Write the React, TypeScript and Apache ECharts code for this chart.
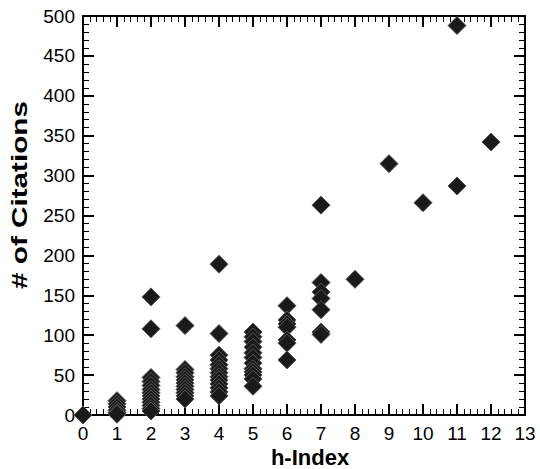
import React, { useEffect, useRef } from "react";
import * as echarts from "echarts";

const hIndexValues = [0, 1, 2, 3, 4, 5, 6, 7, 8, 9, 10, 11, 12];
const citationsByH: number[][] = [
  [0],
  [18, 14, 10, 6, 3, 1],
  [148, 108, 47, 42, 37, 32, 28, 24, 20, 16, 12, 8, 5],
  [112, 57, 53, 48, 44, 40, 36, 32, 28, 24, 20],
  [189, 102, 75, 69, 63, 58, 53, 48, 44, 39, 34, 29, 24],
  [104, 98, 92, 85, 78, 72, 65, 58, 54, 50, 45, 36],
  [137, 119, 114, 110, 94, 90, 69],
  [263, 166, 154, 146, 132, 104, 101],
  [170],
  [315],
  [266],
  [488, 287],
  [342],
];
const xTitle = "h-Index";
const yTitle = "# of Citations";

export default function App() {
  const ref = useRef<HTMLDivElement>(null);
  useEffect(() => {
    if (!ref.current) return;
    const chart = echarts.init(ref.current, null, { renderer: "svg" });
    const data: [number, number][] = [];
    hIndexValues.forEach((h, i) => {
      citationsByH[i].forEach((c) => data.push([h, c]));
    });
    const labelFont = {
      fontSize: 19,
      color: "#000",
      fontFamily: "Liberation Sans, Arial, sans-serif",
    };
    const common = {
      axisLine: { show: true, onZero: false, lineStyle: { color: "#000", width: 2 } },
      axisTick: { show: true, inside: true, length: 11, lineStyle: { color: "#000", width: 2 } },
      minorTick: { show: true, splitNumber: 5, length: 6, lineStyle: { color: "#000", width: 1 } },
      splitLine: { show: false },
      minorSplitLine: { show: false },
    };
    chart.setOption({
      animation: false,
      grid: { left: 83, right: 15, top: 16, bottom: 54 },
      xAxis: [
        {
          type: "value",
          min: 0,
          max: 13,
          interval: 1,
          position: "bottom",
          ...common,
          axisLabel: { ...labelFont, margin: 9 },
        },
        {
          type: "value",
          min: 0,
          max: 13,
          interval: 1,
          position: "top",
          ...common,
          axisLabel: { show: false },
        },
      ],
      yAxis: [
        {
          type: "value",
          min: 0,
          max: 500,
          interval: 50,
          position: "left",
          ...common,
          axisLabel: { ...labelFont, margin: 8 },
        },
        {
          type: "value",
          min: 0,
          max: 500,
          interval: 50,
          position: "right",
          ...common,
          axisLabel: { show: false },
        },
      ],
      graphic: [
        {
          type: "text",
          x: 310,
          y: 457,
          style: {
            text: xTitle,
            fontSize: 22,
            fontWeight: "bold",
            fontFamily: "Liberation Sans, Arial, sans-serif",
            fill: "#000",
            align: "center",
            verticalAlign: "middle",
            textAlign: "center",
            textVerticalAlign: "middle",
          },
        },
        {
          type: "text",
          x: 19,
          y: 195,
          rotation: Math.PI / 2,
          scaleX: 1.35,
          style: {
            text: yTitle,
            fontSize: 22,
            fontWeight: "bold",
            fontFamily: "Liberation Sans, Arial, sans-serif",
            fill: "#000",
            align: "center",
            verticalAlign: "middle",
            textAlign: "center",
            textVerticalAlign: "middle",
          },
        },
      ],
      series: [
        {
          type: "scatter",
          xAxisIndex: 0,
          yAxisIndex: 0,
          symbol: "diamond",
          symbolSize: 18,
          clip: false,
          data,
          itemStyle: { color: "#1a1a1a", borderColor: "#555", borderWidth: 1, opacity: 1 },
          emphasis: { disabled: true },
        },
      ],
    });
    return () => chart.dispose();
  }, []);
  return <div ref={ref} style={{ width: 540, height: 469, position: "absolute", left: 0, top: 0 }} />;
}
